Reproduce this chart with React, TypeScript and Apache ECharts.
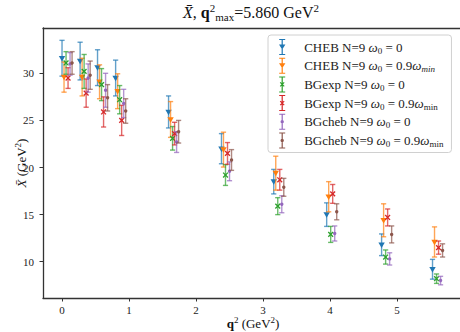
import React, { useEffect, useRef } from "react";
import * as echarts from "echarts";

// q^2 positions of the clusters (GeV^2)
const qBase = [0, 0.27, 0.53, 0.8, 1.59, 2.38, 3.16, 3.95, 4.77, 5.53];
const xShift = 0.03;

const seriesNames = [
  "CHEB N=9 ω0 = 0",
  "CHEB N=9 ω0 = 0.9ωmin",
  "BGexp N=9 ω0 = 0",
  "BGexp N=9 ω0 = 0.9ωmin",
  "BGcheb N=9 ω0 = 0",
  "BGcheb N=9 ω0 = 0.9ωmin",
];

const chebW0Val = [31.6, 31.3, 30.6, 29.5, 25.9, 22.0, 18.5, 15.0, 11.8, 9.2];
const chebW0Err = [1.9, 2.0, 1.9, 1.9, 1.7, 1.6, 1.3, 1.25, 1.15, 1.05];
const chebW9Val = [29.6, 29.6, 29.1, 28.1, 25.1, 21.9, 19.4, 16.9, 14.4, 12.1];
const chebW9Err = [1.6, 2.0, 1.8, 1.85, 1.9, 1.85, 1.8, 1.6, 1.75, 1.6];
const bgexpW0Val = [31.1, 30.2, 28.8, 27.2, 23.1, 19.2, 15.9, 12.9, 10.5, 8.2];
const bgexpW0Err = [1.2, 1.8, 1.7, 1.5, 1.25, 1.1, 0.9, 0.85, 0.75, 0.5];
const bgexpW9Val = [29.5, 27.9, 25.9, 25.0, 23.6, 21.5, 18.7, 17.2, 14.7, 11.5];
const bgexpW9Err = [1.1, 1.5, 1.6, 1.6, 1.2, 1.15, 1.1, 1.0, 0.9, 0.7];
const bgchebW0Val = [31.0, 29.5, 28.2, 26.8, 22.7, 19.6, 16.1, 13.0, 10.3, 8.0];
const bgchebW0Err = [1.2, 1.5, 1.8, 1.5, 1.1, 1.0, 0.9, 0.8, 0.65, 0.45];
const bgchebW9Val = [31.1, 29.8, 27.4, 26.0, 23.8, 20.8, 17.9, 15.3, 12.9, 11.2];
const bgchebW9Err = [1.2, 1.5, 1.4, 1.3, 1.2, 1.1, 0.95, 0.85, 0.9, 0.7];

const allVals = [chebW0Val, chebW9Val, bgexpW0Val, bgexpW9Val, bgchebW0Val, bgchebW9Val];
const allErrs = [chebW0Err, chebW9Err, bgexpW0Err, bgexpW9Err, bgchebW0Err, bgchebW9Err];

const colors = ["#1f77b4", "#ff7f0e", "#2ca02c", "#d62728", "#9467bd", "#8c564b"];
const markers = ["tri", "tri", "x", "x", "dot", "dot"];

const legendLabels = [
  "{t|CHEB N=9 }{m|ω}{s|0}{t| = 0}",
  "{t|CHEB N=9 }{m|ω}{s|0}{t| = 0.9}{m|ω}{si|min}",
  "{t|BGexp N=9 }{m|ω}{s|0}{t| = 0}",
  "{t|BGexp N=9 }{m|ω}{s|0}{t| = 0.9}{m|ω}{s|min}",
  "{t|BGcheb N=9 }{m|ω}{s|0}{t| = 0}",
  "{t|BGcheb N=9 }{m|ω}{s|0}{t| = 0.9}{m|ω}{s|min}",
];

const barIcon =
  "M2,0 L8,0 L8,1 L2,1 Z M2,15 L8,15 L8,16 L2,16 Z M4.4,0 L5.6,0 L5.6,16 L4.4,16 Z ";
const markerIcon: Record<string, string> = {
  tri: "M1.8,5.6 L8.2,5.6 L5,10.6 Z",
  x: "M2.6,6.4 L3.4,5.6 L7.4,9.6 L6.6,10.4 Z M6.6,5.6 L7.4,6.4 L3.4,10.4 L2.6,9.6 Z",
  dot: "M3.3,8 A1.7,1.7 0 1 1 6.7,8 A1.7,1.7 0 1 1 3.3,8 Z",
};

const FONT = "Liberation Serif";

function makeSeries(i: number) {
  const data = qBase.map((q, k) => {
    const v = allVals[i][k];
    const e = allErrs[i][k];
    return [q + i * xShift, v, v - e, v + e];
  });
  const color = colors[i];
  const marker = markers[i];
  return {
    type: "custom",
    name: seriesNames[i],
    itemStyle: { color },
    encode: { x: 0, y: 1 },
    data,
    renderItem: (_params: any, api: any) => {
      const x = api.value(0);
      const y = api.value(1);
      const lo = api.value(2);
      const hi = api.value(3);
      const p = api.coord([x, y]);
      const pHi = api.coord([x, hi]);
      const pLo = api.coord([x, lo]);
      const cw = 2.6;
      const barStyle = { stroke: color, lineWidth: 1.4, opacity: 0.7 };
      const children: any[] = [
        { type: "line", shape: { x1: pHi[0], y1: pHi[1], x2: pLo[0], y2: pLo[1] }, style: barStyle },
        { type: "line", shape: { x1: pHi[0] - cw, y1: pHi[1], x2: pHi[0] + cw, y2: pHi[1] }, style: barStyle },
        { type: "line", shape: { x1: pLo[0] - cw, y1: pLo[1], x2: pLo[0] + cw, y2: pLo[1] }, style: barStyle },
      ];
      if (marker === "tri") {
        children.push({
          type: "polygon",
          shape: { points: [[p[0] - 3.2, p[1] - 2.3], [p[0] + 3.2, p[1] - 2.3], [p[0], p[1] + 3.2]] },
          style: { fill: color },
        });
      } else if (marker === "x") {
        const d = 2.4;
        const st = { stroke: color, lineWidth: 1.3 };
        children.push({ type: "line", shape: { x1: p[0] - d, y1: p[1] - d, x2: p[0] + d, y2: p[1] + d }, style: st });
        children.push({ type: "line", shape: { x1: p[0] - d, y1: p[1] + d, x2: p[0] + d, y2: p[1] - d }, style: st });
      } else {
        children.push({ type: "circle", shape: { cx: p[0], cy: p[1], r: 1.7 }, style: { fill: color } });
      }
      return { type: "group", children };
    },
  };
}

export default function App() {
  const ref = useRef<HTMLDivElement>(null);
  useEffect(() => {
    if (!ref.current) return;
    const chart = echarts.init(ref.current, undefined, { renderer: "svg" });
    const axisColor = "#333";
    const labelStyle = { color: "#222", fontFamily: FONT, fontSize: 11 };
    chart.setOption({
      animation: false,
      backgroundColor: "#fff",
      title: {
        text: "{i|X\u0304}{r|, }{b|q}{p|2}{s|max}{r|=5.860 GeV}{p|2}",
        left: 251,
        top: 0,
        padding: [2, 0, 0, 0],
        textAlign: "center",
        textStyle: {
          fontFamily: FONT,
          fontSize: 16,
          fontWeight: "normal",
          color: "#111",
          rich: {
            i: { fontFamily: FONT, fontSize: 16, fontStyle: "italic", color: "#111", lineHeight: 20 },
            r: { fontFamily: FONT, fontSize: 16, color: "#111", lineHeight: 20 },
            b: { fontFamily: FONT, fontSize: 16, fontWeight: "bold", color: "#111", lineHeight: 20 },
            p: { fontFamily: FONT, fontSize: 11, color: "#111", verticalAlign: "top" },
            s: { fontFamily: FONT, fontSize: 11, color: "#111", verticalAlign: "bottom" },
          },
        },
      },
      legend: {
        orient: "vertical",
        left: 268,
        top: 35,
        padding: [4, 8, 4, 11],
        itemWidth: 10,
        itemHeight: 16,
        itemGap: 2.7,
        backgroundColor: "#fff",
        borderColor: "#d0d0d0",
        borderWidth: 1,
        borderRadius: 3,
        data: seriesNames.map((n, i) => ({ name: n, icon: "path://" + barIcon + markerIcon[markers[i]] })),
        formatter: (name: string) => legendLabels[seriesNames.indexOf(name)],
        textStyle: {
          padding: [0, 0, 0, 12],
          rich: {
            t: { fontFamily: FONT, fontSize: 13, color: "#222", lineHeight: 16 },
            m: { fontFamily: FONT, fontSize: 13, fontStyle: "italic", color: "#222", lineHeight: 16 },
            s: { fontFamily: FONT, fontSize: 9, color: "#222", verticalAlign: "bottom" },
            si: { fontFamily: FONT, fontSize: 9, fontStyle: "italic", color: "#222", verticalAlign: "bottom" },
          },
        },
      },
      grid: { left: 43, top: 28, width: 420, height: 270, outerBoundsMode: "none", containLabel: false },
      xAxis: [
        {
          type: "value",
          min: -0.284,
          max: 5.985,
          splitNumber: 6,
          splitLine: { show: false },
          axisLine: { show: true, onZero: false, lineStyle: { color: axisColor, width: 1.3 } },
          axisTick: { show: true, length: 3.5, lineStyle: { color: axisColor } },
          axisLabel: { ...labelStyle, margin: 6, showMinLabel: false, showMaxLabel: false },
          name: "{b|q}{p|2}{r| (GeV}{p|2}{r|)}",
          nameLocation: "middle",
          nameGap: 17,
          nameMoveOverlap: false,
          nameTextStyle: {
            rich: {
              b: { fontFamily: FONT, fontSize: 13, fontWeight: "bold", color: "#111", lineHeight: 16 },
              r: { fontFamily: FONT, fontSize: 13, color: "#111", lineHeight: 16 },
              p: { fontFamily: FONT, fontSize: 9, color: "#111", verticalAlign: "top" },
            },
          },
        },
        {
          type: "value",
          position: "top",
          min: -0.284,
          max: 5.985,
          splitLine: { show: false },
          axisLine: { show: true, onZero: false, lineStyle: { color: axisColor, width: 1.3 } },
          axisTick: { show: false },
          axisLabel: { show: false },
        },
      ],
      yAxis: {
        type: "value",
        min: 6.15,
        max: 34.81,
        splitNumber: 5,
        splitLine: { show: false },
        axisLine: { show: true, onZero: false, lineStyle: { color: axisColor, width: 1.3 } },
        axisTick: { show: true, length: 3.5, lineStyle: { color: axisColor } },
        axisLabel: { ...labelStyle, margin: 9, showMinLabel: false, showMaxLabel: false },
        name: "{i|X\u0304}{r| (GeV}{p|2}{r|)}",
        nameLocation: "middle",
        nameGap: 14,
        nameMoveOverlap: false,
        nameTextStyle: {
          rich: {
            i: { fontFamily: FONT, fontSize: 13, fontStyle: "italic", color: "#111", lineHeight: 16 },
            r: { fontFamily: FONT, fontSize: 13, color: "#111", lineHeight: 16 },
            p: { fontFamily: FONT, fontSize: 9, color: "#111", verticalAlign: "top" },
          },
        },
      },
      series: seriesNames.map((_, i) => makeSeries(i)),
    });
    return () => chart.dispose();
  }, []);
  return <div ref={ref} style={{ width: 460, height: 332, position: "fixed", left: 0, top: 0 }} />;
}
